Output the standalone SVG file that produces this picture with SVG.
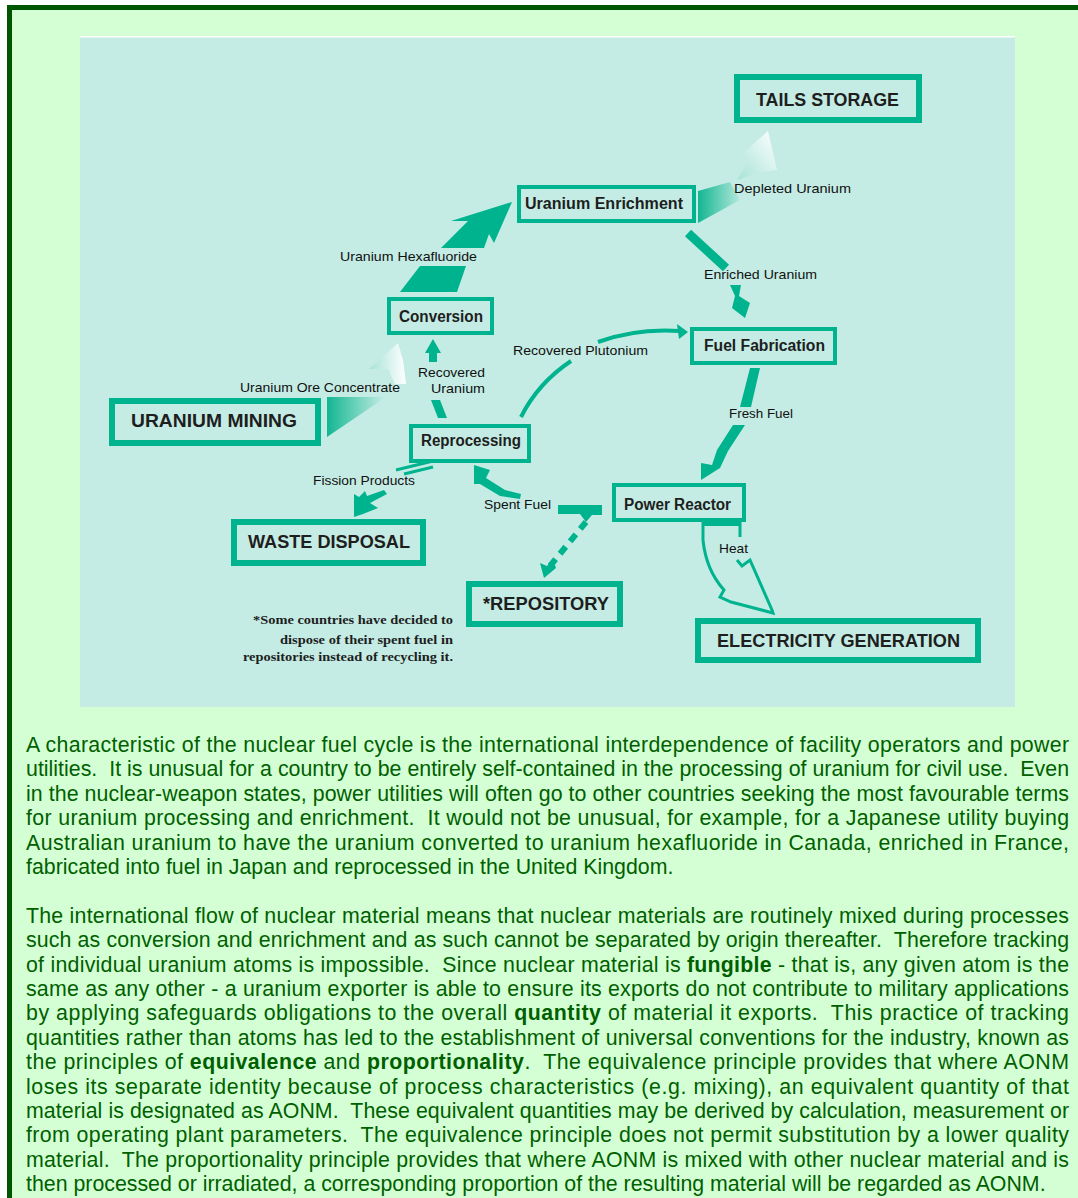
<svg xmlns="http://www.w3.org/2000/svg" width="1078" height="1198" viewBox="0 0 1078 1198">
<style>
.box{fill:none;stroke:#00B38F;stroke-width:4}
.bigbox{fill:none;stroke:#00B38F;stroke-width:6}
.nl{font-family:"Liberation Sans",Arial,sans-serif;font-weight:bold;font-size:16px;fill:#1e1e1e}
.bl{font-family:"Liberation Sans",Arial,sans-serif;font-weight:bold;font-size:19px;fill:#1e1e1e}
.cl{font-family:"Liberation Sans",Arial,sans-serif;font-size:13px;fill:#111111}
.fn{font-family:"Liberation Serif","Times New Roman",serif;font-weight:bold;font-size:12px;fill:#1e1e1e}
.arr{fill:#00B38F;stroke:none}
.line{fill:none;stroke:#00B38F}
.p{font-family:"Liberation Sans",Arial,sans-serif;font-size:21.33px;fill:#006000}
</style>
<defs>
<linearGradient id="gOreLow" x1="0" y1="0" x2="1" y2="0"><stop offset="0" stop-color="#12B691"/><stop offset="1" stop-color="#C8EEE6"/></linearGradient>
<linearGradient id="gOreHi" x1="0" y1="0" x2="1" y2="0"><stop offset="0" stop-color="#A6E3D6"/><stop offset="1" stop-color="#FFFFFF"/></linearGradient>
<linearGradient id="gDepLow" x1="0" y1="0" x2="1" y2="0"><stop offset="0" stop-color="#12B691"/><stop offset="1" stop-color="#B4E8DC"/></linearGradient>
<linearGradient id="gDepHi" x1="0" y1="1" x2="1" y2="0"><stop offset="0" stop-color="#A6E3D6"/><stop offset="1" stop-color="#FFFFFF"/></linearGradient>
</defs>

<rect x="9.5" y="7.5" width="1100" height="1220" fill="#D4FFD4" stroke="#005500" stroke-width="5"/>
<rect x="80" y="36" width="935" height="671" fill="#C4ECE4"/>
<line x1="80" y1="36.5" x2="1015" y2="36.5" stroke="#FFFFFF" stroke-width="1"/>
<line x1="80" y1="37.5" x2="1015" y2="37.5" stroke="#E2F6F1" stroke-width="1"/>

<g id="connectors">
  <!-- Uranium Hexafluoride -->
  <polygon class="arr" points="400,292 457,292 466,266 420,266"/>
  <polygon class="arr" points="441,248 468,221 451,221 512,202 494,243 489,234 484,248"/>
  <!-- Depleted Uranium -->
  <polygon points="698,191 730,182 740,200 698,223" fill="url(#gDepLow)"/>
  <polygon points="768,131 739,157 750,158 737,180 760,172 777,170" fill="url(#gDepHi)"/>
  <!-- Enriched Uranium -->
  <line class="line" x1="688" y1="233" x2="726" y2="268" stroke-width="9"/>
  <polygon class="arr" points="730,285 741,285 739,296 750,303 745,318 732,308 735,296"/>
  <!-- Uranium Ore Concentrate -->
  <polygon points="327,397 386,397 327,437" fill="url(#gOreLow)"/>
  <polygon points="398,343 369,369 388,369 395,384 406,384 403,360" fill="url(#gOreHi)"/>
  <!-- Recovered Uranium -->
  <polygon class="arr" points="433,339 441,353 437,353 437,362 429,362 429,353 425,353"/>
  <polygon class="arr" points="431,400 440,400 447,418 438,418"/>
  <!-- Recovered Plutonium -->
  <path class="line" d="M521,417 Q538,383 571,361" stroke-width="4"/>
  <path class="line" d="M598,342 Q636,328 680,331" stroke-width="4"/>
  <polygon class="arr" points="688,332 677,324 679,339"/>
  <!-- Fresh Fuel -->
  <polygon class="arr" points="750,368 760,368 751,407 740,407"/>
  <polygon class="arr" points="733,425 745,425 728,451 720,468 701,480 701,463 712,465 717,450"/>
  <!-- Spent Fuel -->
  <polygon class="arr" points="558,505 602,505 602,515 592,515 586,522 580,514 558,514"/>
  <polygon class="arr" points="474,465 490,470 486,478 505,490 521,494 520,499 500,496 480,484 474,484"/>
  <!-- Repository (dashed) -->
  <line class="line" x1="586" y1="522" x2="550" y2="566" stroke-width="6" stroke-dasharray="9,7"/>
  <polygon class="arr" points="544,578 540,563 547,566 553,559 556,568"/>
  <!-- Fission Products -->
  <line class="line" x1="396" y1="470" x2="433" y2="461" stroke-width="3"/>
  <line class="line" x1="404" y1="474" x2="433" y2="467" stroke-width="3"/>
  <polygon class="arr" points="354,517 354,494 359,497 365,491 367,496 384,490 387,494 370,503 378,508 363,514"/>
  <!-- Heat -->
  <path class="line" d="M703,521 L703,540 Q706,570 724,590 L720,597 L731,602 L773,613 L772,610 L750,560 L742,566 L737,560" stroke-width="3" stroke-linejoin="miter"/>
  <path class="line" d="M740,521 L740,537" stroke-width="3"/>
  <line class="line" x1="702" y1="524" x2="741" y2="524" stroke-width="4"/>
</g>

<g id="tails-storage"><rect class="bigbox" x="737" y="77" width="182" height="43"/><text class="bl" x="756" y="106" textLength="143" lengthAdjust="spacingAndGlyphs">TAILS STORAGE</text></g>
<g id="uranium-enrichment"><rect class="box" x="519" y="187" width="175" height="34"/><text class="nl" x="525" y="209" textLength="158" lengthAdjust="spacingAndGlyphs">Uranium Enrichment</text></g>
<g id="conversion"><rect class="box" x="389" y="299" width="103" height="34"/><text class="nl" x="399" y="322" textLength="84" lengthAdjust="spacingAndGlyphs">Conversion</text></g>
<g id="fuel-fabrication"><rect class="box" x="692" y="329" width="143" height="34"/><text class="nl" x="704" y="351" textLength="121" lengthAdjust="spacingAndGlyphs">Fuel Fabrication</text></g>
<g id="uranium-mining"><rect class="bigbox" x="112" y="401" width="206" height="42"/><text class="bl" x="131" y="426.5" textLength="166" lengthAdjust="spacingAndGlyphs">URANIUM MINING</text></g>
<g id="reprocessing"><rect class="box" x="411" y="426" width="118" height="35"/><text class="nl" x="421" y="446" textLength="100" lengthAdjust="spacingAndGlyphs">Reprocessing</text></g>
<g id="waste-disposal"><rect class="bigbox" x="234" y="522" width="189" height="41"/><text class="bl" x="248" y="547.5" textLength="162" lengthAdjust="spacingAndGlyphs">WASTE DISPOSAL</text></g>
<g id="repository"><rect class="bigbox" x="469" y="584" width="151" height="40"/><text class="bl" x="483" y="610" textLength="126" lengthAdjust="spacingAndGlyphs">*REPOSITORY</text></g>
<g id="power-reactor"><rect class="box" x="614" y="485" width="130" height="35"/><text class="nl" x="624" y="510" textLength="107" lengthAdjust="spacingAndGlyphs">Power Reactor</text></g>
<g id="electricity-generation"><rect class="bigbox" x="698" y="621" width="280" height="39"/><text class="bl" x="717" y="647" textLength="243" lengthAdjust="spacingAndGlyphs">ELECTRICITY GENERATION</text></g>

<g id="connector-labels">
  <text class="cl" x="734" y="192.5" textLength="117" lengthAdjust="spacingAndGlyphs">Depleted Uranium</text>
  <text class="cl" x="340" y="260.5" textLength="137" lengthAdjust="spacingAndGlyphs">Uranium Hexafluoride</text>
  <text class="cl" x="704" y="278.5" textLength="113" lengthAdjust="spacingAndGlyphs">Enriched Uranium</text>
  <text class="cl" x="513" y="355" textLength="135" lengthAdjust="spacingAndGlyphs">Recovered Plutonium</text>
  <text class="cl" x="240" y="391.5" textLength="160" lengthAdjust="spacingAndGlyphs">Uranium Ore Concentrate</text>
  <text class="cl" x="418" y="377" textLength="67" lengthAdjust="spacingAndGlyphs">Recovered</text>
  <text class="cl" x="431" y="392.5" textLength="54" lengthAdjust="spacingAndGlyphs">Uranium</text>
  <text class="cl" x="729" y="418" textLength="64" lengthAdjust="spacingAndGlyphs">Fresh Fuel</text>
  <text class="cl" x="313" y="485" textLength="102" lengthAdjust="spacingAndGlyphs">Fission Products</text>
  <text class="cl" x="484" y="508.5" textLength="67" lengthAdjust="spacingAndGlyphs">Spent Fuel</text>
  <text class="cl" x="719" y="552.5" textLength="29" lengthAdjust="spacingAndGlyphs">Heat</text>
</g>

<g id="footnote">
  <text class="fn" x="253" y="624" textLength="200" lengthAdjust="spacingAndGlyphs">*Some countries have decided to</text>
  <text class="fn" x="280" y="644" textLength="173" lengthAdjust="spacingAndGlyphs">dispose of their spent fuel in</text>
  <text class="fn" x="243" y="661" textLength="210" lengthAdjust="spacingAndGlyphs">repositories instead of recycling it.</text>
</g>

<g id="body-text">
  <text class="p" x="26" y="752" textLength="1043" lengthAdjust="spacing">A characteristic of the nuclear fuel cycle is the international interdependence of facility operators and power</text>
  <text class="p" x="26" y="776.4" textLength="1043" lengthAdjust="spacing" xml:space="preserve">utilities.  It is unusual for a country to be entirely self-contained in the processing of uranium for civil use.  Even</text>
  <text class="p" x="26" y="800.8" textLength="1043" lengthAdjust="spacing">in the nuclear-weapon states, power utilities will often go to other countries seeking the most favourable terms</text>
  <text class="p" x="26" y="825.2" textLength="1043" lengthAdjust="spacing" xml:space="preserve">for uranium processing and enrichment.  It would not be unusual, for example, for a Japanese utility buying</text>
  <text class="p" x="26" y="849.6" textLength="1043" lengthAdjust="spacing">Australian uranium to have the uranium converted to uranium hexafluoride in Canada, enriched in France,</text>
  <text class="p" x="26" y="874">fabricated into fuel in Japan and reprocessed in the United Kingdom.</text>

  <text class="p" x="26" y="922.8" textLength="1043" lengthAdjust="spacing">The international flow of nuclear material means that nuclear materials are routinely mixed during processes</text>
  <text class="p" x="26" y="947.2" textLength="1043" lengthAdjust="spacing" xml:space="preserve">such as conversion and enrichment and as such cannot be separated by origin thereafter.  Therefore tracking</text>
  <text class="p" x="26" y="971.6" textLength="1043" lengthAdjust="spacing" xml:space="preserve">of individual uranium atoms is impossible.  Since nuclear material is <tspan font-weight="bold">fungible</tspan> - that is, any given atom is the</text>
  <text class="p" x="26" y="996" textLength="1043" lengthAdjust="spacing">same as any other - a uranium exporter is able to ensure its exports do not contribute to military applications</text>
  <text class="p" x="26" y="1020.4" textLength="1043" lengthAdjust="spacing" xml:space="preserve">by applying safeguards obligations to the overall <tspan font-weight="bold">quantity</tspan> of material it exports.  This practice of tracking</text>
  <text class="p" x="26" y="1044.8" textLength="1043" lengthAdjust="spacing">quantities rather than atoms has led to the establishment of universal conventions for the industry, known as</text>
  <text class="p" x="26" y="1069.2" textLength="1043" lengthAdjust="spacing" xml:space="preserve">the principles of <tspan font-weight="bold">equivalence</tspan> and <tspan font-weight="bold">proportionality</tspan>.  The equivalence principle provides that where AONM</text>
  <text class="p" x="26" y="1093.6" textLength="1043" lengthAdjust="spacing">loses its separate identity because of process characteristics (e.g. mixing), an equivalent quantity of that</text>
  <text class="p" x="26" y="1118" textLength="1043" lengthAdjust="spacing" xml:space="preserve">material is designated as AONM.  These equivalent quantities may be derived by calculation, measurement or</text>
  <text class="p" x="26" y="1142.4" textLength="1043" lengthAdjust="spacing" xml:space="preserve">from operating plant parameters.  The equivalence principle does not permit substitution by a lower quality</text>
  <text class="p" x="26" y="1166.8" textLength="1043" lengthAdjust="spacing" xml:space="preserve">material.  The proportionality principle provides that where AONM is mixed with other nuclear material and is</text>
  <text class="p" x="26" y="1191.2">then processed or irradiated, a corresponding proportion of the resulting material will be regarded as AONM.</text>
</g>
</svg>
